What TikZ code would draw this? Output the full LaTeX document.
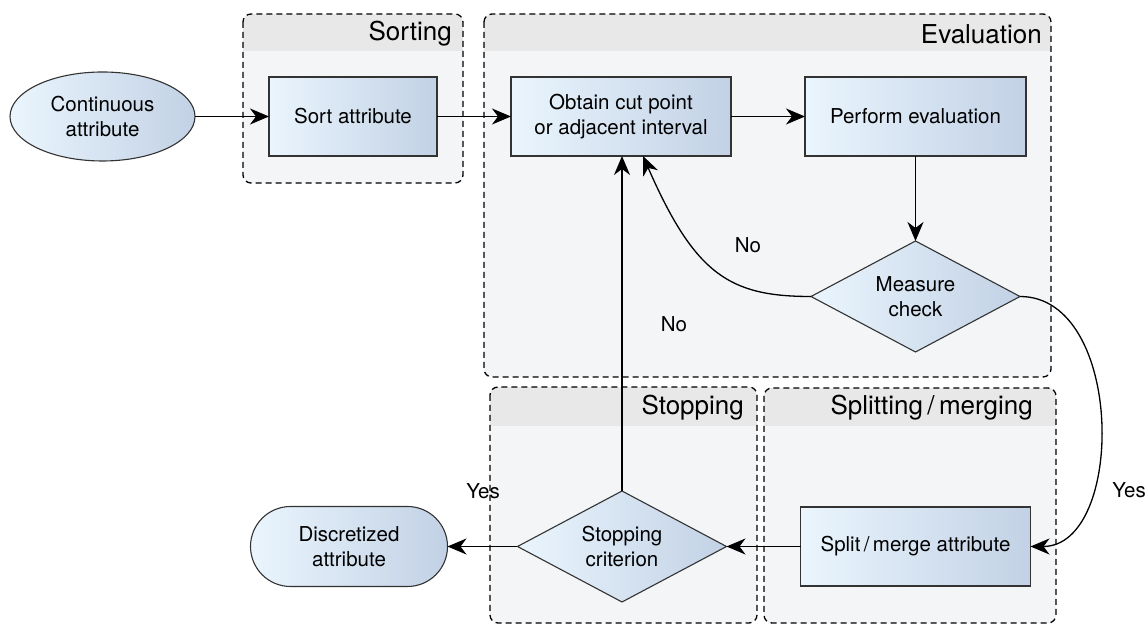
\documentclass[tikz,border=0pt]{standalone}
\usepackage{fontspec}
\setmainfont{TeX Gyre Heros}
\usetikzlibrary{positioning, calc, arrows.meta, shapes.geometric}

\definecolor{shadeL}{HTML}{EAF5FD}
\definecolor{shadeR}{HTML}{C2D1E5}
\definecolor{laneBody}{HTML}{F4F5F7}
\definecolor{laneHead}{HTML}{E8E8E8}
\definecolor{edgeGray}{HTML}{333333}

\begin{document}
\begin{tikzpicture}[
    x=1pt, y=1pt,
    >={Stealth[length=19pt, width=16pt, inset=6pt]},
    node distance=74pt,
    flowbase/.style={draw=edgeGray, line width=1.1pt, left color=shadeL, right color=shadeR, align=center, inner sep=0pt, outer sep=0pt, font=\fontsize{20.5}{24.5}\selectfont},
    proc/.style={flowbase, rectangle, minimum width=#1, minimum height=79pt},
    proc/.default=168pt,
    term/.style={flowbase, ellipse, minimum width=185pt, minimum height=89pt},
    stopbox/.style={flowbase, rectangle, rounded corners=40pt, minimum width=197pt, minimum height=80pt},
    decision/.style={flowbase, diamond, aspect=1.9, minimum width=209pt, minimum height=111pt},
    arr/.style={->, line width=1.3pt, color=black},
    lbl/.style={font=\fontsize{20.5}{24.5}\selectfont, inner sep=0pt},
    lanebox/.style={draw=black, dash pattern=on 6pt off 4pt, line width=1.3pt, rounded corners=8pt},
    lanetitle/.style={font=\fontsize{26}{30}\selectfont, anchor=east, inner sep=0pt},
]
\useasboundingbox (0,0) rectangle (1146,626);

% ===== Lanes =====
\foreach \xa/\ya/\xb/\yb/\yh in {243/612/463/443/575, 484/612/1051/249/575, 490/239/757/3/200, 764/238/1056/3/200}{
    \begin{scope}
        \clip[rounded corners=8pt] (\xa,\ya) rectangle (\xb,\yb);
        \fill[laneBody] (\xa,\ya) rectangle (\xb,\yb);
        \fill[laneHead] (\xa,\ya) rectangle (\xb,\yh);
    \end{scope}
    \draw[lanebox] (\xa,\ya) rectangle (\xb,\yb);
}

\node[lanetitle] (tsort) at (452,592) {Sorting};
\node[lanetitle] (teval) at (1042,592) {Evaluation};
\node[lanetitle] (tstop) at (744,218) {Stopping};
\node[lanetitle] (tsplit) at (1033,218) {Splitting\,/\,merging};

% ===== Steps =====
\node[term] (cont) at (102.5,509.5) {Continuous\\attribute};
\node[proc, right=of cont] (sort) {Sort attribute};
\node[proc=220pt, right=of sort] (cut) {Obtain cut point\\or adjacent interval};
\node[proc=221pt, right=of cut] (eval) {Perform evaluation};
\node[decision, below=85pt of eval] (measure) {Measure\\check};
\node[proc=230pt, below=155pt of measure] (split) {Split\,/\,merge attribute};
\node[decision, left=of split] (stopcrit) {Stopping\\criterion};
\node[stopbox, left=70pt of stopcrit] (disc) {Discretized\\attribute};

% ===== Connectors =====
\draw[arr] (cont) -- (sort);
\draw[arr] (sort) -- (cut);
\draw[arr] (cut) -- (eval);
\draw[arr] (eval) -- (measure);
\draw[arr] (split) -- (stopcrit);
\draw[arr] (stopcrit) -- (disc);
\draw[arr] (stopcrit.north) -- (stopcrit.north |- cut.south);
\draw[arr] (measure.west) .. controls +(-81,0) and +(52,-119) .. ($(cut.south)!0.2!(cut.south east)$);
\draw[arr] (measure.east) .. controls +(105,0) and +(95,0) .. (split.east);

% labels
\node[lbl] (no1) at (748,381) {No};
\node[lbl] (no2) at (674,302) {No};
\node[lbl] (yes1) at (1129,136) {Yes};
\node[lbl] (yes2) at (483,135) {Yes};

\end{tikzpicture}
\end{document}
